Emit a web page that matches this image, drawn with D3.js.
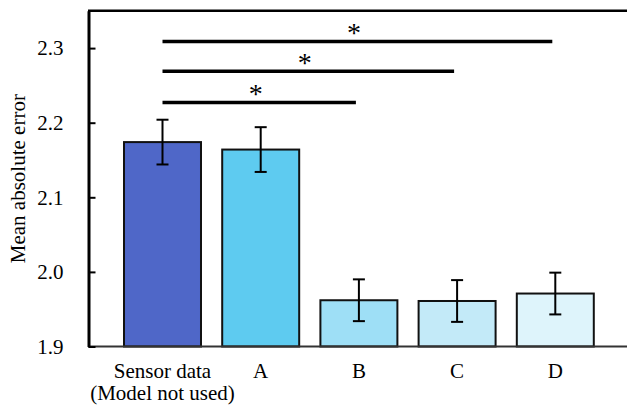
<!DOCTYPE html>
<html>
<head>
<meta charset="utf-8">
<script src="https://cdn.jsdelivr.net/npm/d3@7"></script>
<style>
  body { margin: 0; background: #fff; }
  text { font-family: "Liberation Serif", "Times New Roman", serif; fill: #000; }
</style>
</head>
<body>
<div id="chart"></div>
<script>
var categories = ["Sensor data\n(Model not used)", "A", "B", "C", "D"];
var means      = [2.174, 2.164, 1.962, 1.961, 1.971];
var errors     = [0.030, 0.030, 0.028, 0.028, 0.028];
var colors     = ["#4f67c8", "#5ecbf0", "#9edff6", "#c3eaf8", "#def4fb"];
var yTicks     = [1.9, 2.0, 2.1, 2.2, 2.3];
// significance brackets: from category index, to category index, level
var sigFrom    = [0, 0, 0];
var sigTo      = [2, 3, 4];
var sigLevel   = [2.227, 2.269, 2.309];
var sigLabels  = ["*", "*", "*"];

var width = 627, height = 406;
var svg = d3.select("#chart").append("svg")
    .attr("width", width)
    .attr("height", height);

/* Scales */
var y = d3.scaleLinear()
    .domain([1.9, 2.35])
    .range([346.5, 10.8]);
var x = d3.scaleBand()
    .domain(categories)
    .range([113.4, 604.4])
    .paddingInner(0.216)
    .paddingOuter(0.108);

/* Bars */
svg.selectAll(".bar")
    .data(means)
    .enter()
    .append("rect")
        .attr("class", "bar")
        .attr("x", function(d, i) { return x(categories[i]); })
        .attr("y", function(d) { return y(d); })
        .attr("width", x.bandwidth())
        .attr("height", function(d) { return y(1.9) - y(d); })
        .attr("fill", function(d, i) { return colors[i]; })
        .attr("stroke", "#111")
        .attr("stroke-width", 2);

/* Error bars */
var err = svg.selectAll(".err")
    .data(means)
    .enter()
    .append("g")
        .attr("class", "err")
        .attr("stroke", "#000")
        .attr("stroke-width", 2);
err.append("line")
    .attr("x1", function(d, i) { return x(categories[i]) + x.bandwidth() / 2; })
    .attr("x2", function(d, i) { return x(categories[i]) + x.bandwidth() / 2; })
    .attr("y1", function(d, i) { return y(d + errors[i]); })
    .attr("y2", function(d, i) { return y(d - errors[i]); });
[1, -1].forEach(function(s) {
    err.append("line")
        .attr("x1", function(d, i) { return x(categories[i]) + x.bandwidth() / 2 - 6; })
        .attr("x2", function(d, i) { return x(categories[i]) + x.bandwidth() / 2 + 6; })
        .attr("y1", function(d, i) { return y(d + s * errors[i]); })
        .attr("y2", function(d, i) { return y(d + s * errors[i]); });
});

/* Frame: top line and bottom axis */
svg.append("line")
    .attr("x1", 88).attr("x2", width)
    .attr("y1", y(2.35)).attr("y2", y(2.35))
    .attr("stroke", "#000").attr("stroke-width", 2.5);
svg.append("line")
    .attr("x1", 88).attr("x2", width)
    .attr("y1", y(1.9)).attr("y2", y(1.9))
    .attr("stroke", "#333").attr("stroke-width", 2);

/* Y axis with inward ticks */
var yAxis = d3.axisLeft(y)
    .tickValues(yTicks)
    .tickFormat(d3.format(".1f"))
    .tickSizeInner(-7)
    .tickSizeOuter(0)
    .tickPadding(25);
var yg = svg.append("g")
    .attr("transform", "translate(88.5,0)")
    .call(yAxis);
yg.select(".domain").attr("stroke", "#000").attr("stroke-width", 3);
yg.selectAll(".tick line").attr("stroke", "#000").attr("stroke-width", 2);
yg.selectAll(".tick text")
    .style("font-family", "'Liberation Serif', serif")
    .style("font-size", "21px")
    .attr("fill", "#000");

/* Y label */
svg.append("text")
    .attr("transform", "translate(25," + ((y(1.9) + y(2.35)) / 2) + ") rotate(-90)")
    .attr("text-anchor", "middle")
    .style("font-size", "21px")
    .text("Mean absolute error");

/* X labels */
svg.selectAll(".xlabel")
    .data(categories)
    .enter()
    .append("text")
        .attr("class", "xlabel")
        .attr("text-anchor", "middle")
        .style("font-size", "21px")
        .attr("x", function(d) { return x(d) + x.bandwidth() / 2; })
        .attr("y", 378)
        .each(function(d) {
            var parts = d.split("\n");
            var t = d3.select(this);
            parts.forEach(function(p, k) {
                t.append("tspan")
                    .attr("x", t.attr("x"))
                    .attr("dy", k === 0 ? 0 : 22)
                    .text(p);
            });
        });

/* Significance lines */
var center = function(i) { return x(categories[i]) + x.bandwidth() / 2; };
svg.selectAll(".sig")
    .data(sigLevel)
    .enter()
    .append("line")
        .attr("class", "sig")
        .attr("x1", function(d, i) { return center(sigFrom[i]); })
        .attr("x2", function(d, i) { return center(sigTo[i]) - 3; })
        .attr("y1", function(d) { return y(d); })
        .attr("y2", function(d) { return y(d); })
        .attr("stroke", "#000")
        .attr("stroke-width", 3.5);
svg.selectAll(".sigText")
    .data(sigLevel)
    .enter()
    .append("text")
        .attr("class", "sigText")
        .attr("text-anchor", "middle")
        .style("font-size", "28px")
        .attr("x", function(d, i) { return (center(sigFrom[i]) + center(sigTo[i])) / 2 - 5; })
        .attr("y", function(d) { return y(d) + 0.5; })
        .text(function(d, i) { return sigLabels[i]; });
</script>
</body>
</html>
